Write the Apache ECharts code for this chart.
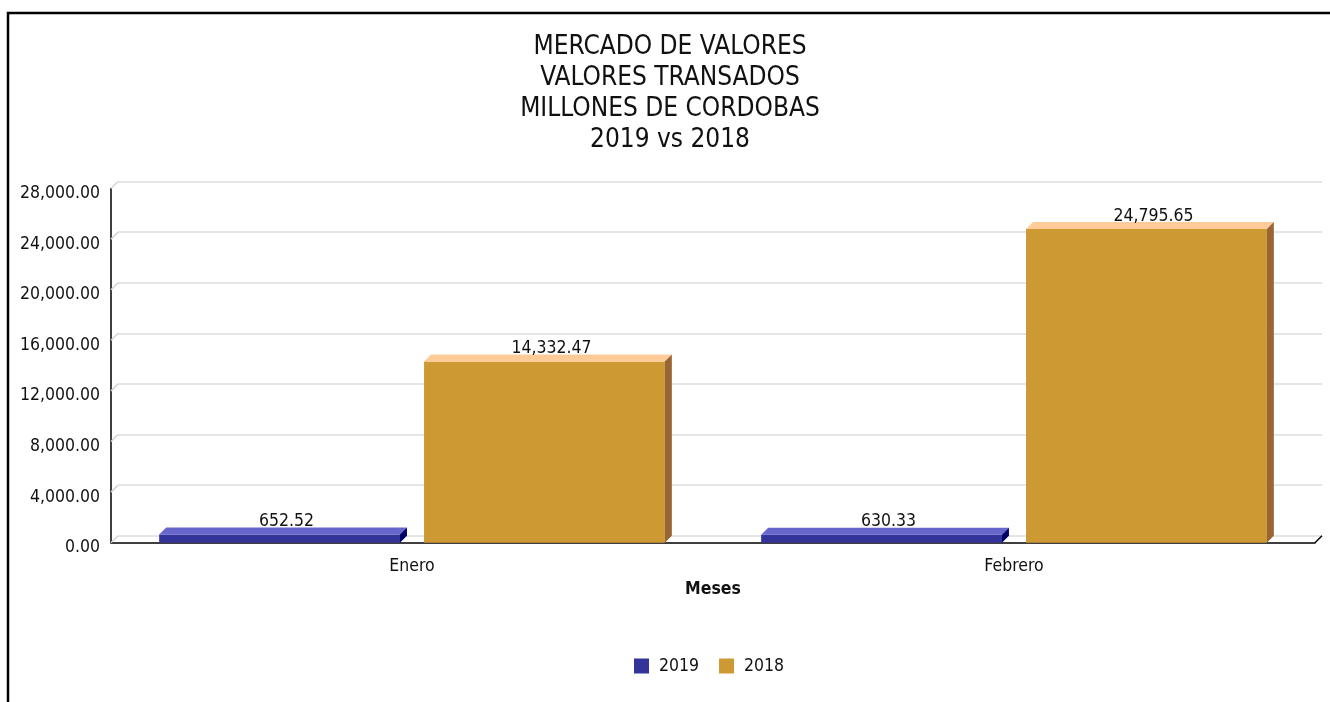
<!DOCTYPE html>
<html>
<head>
<meta charset="utf-8">
<title>Mercado de valores</title>
<script src="https://cdn.jsdelivr.net/npm/echarts@6/dist/echarts.min.js"></script>
<style>
  html, body { margin: 0; padding: 0; background: #fff; }
  #chart { width: 1330px; height: 702px; }
</style>
</head>
<body>
<div id="chart"></div>
<script>
// datos
const months = ['Enero', 'Febrero'];
const values2019 = [652.52, 630.33];
const values2018 = [14332.47, 24795.65];
const yTicks = [0, 4000, 8000, 12000, 16000, 20000, 24000, 28000];

const FONT = "'DejaVu Sans Condensed', 'DejaVu Sans', sans-serif";
const DEPTH = 7; // profundidad del efecto 3D

function fmt(v) {
  return Number(v).toLocaleString('en-US', { minimumFractionDigits: 2, maximumFractionDigits: 2 });
}

// barra con cara frontal, superior y lateral
function bar3D(offset, colors) {
  return function (params, api) {
    const base = api.coord([api.value(0), 0]);
    const top = api.coord([api.value(0), api.value(1)]);
    const band = api.size([1, 0])[0];
    const w = band * 0.4;
    const x = base[0] + band * offset - w / 2;
    const yTop = top[1];
    const yBase = base[1];
    const d = DEPTH;
    return {
      type: 'group',
      children: [
        { type: 'rect', shape: { x: x, y: yTop, width: w, height: yBase - yTop }, style: { fill: colors.front } },
        { type: 'polygon', shape: { points: [[x, yTop], [x + d, yTop - d], [x + w + d, yTop - d], [x + w, yTop]] }, style: { fill: colors.top } },
        { type: 'polygon', shape: { points: [[x + w, yTop], [x + w + d, yTop - d], [x + w + d, yBase - d], [x + w, yBase]] }, style: { fill: colors.side } },
        {
          type: 'text',
          style: {
            text: fmt(api.value(1)), x: x + w / 2 + d, y: yTop - d - 6,
            align: 'center', verticalAlign: 'middle',
            fontSize: 17.5, fontFamily: FONT, fill: '#111'
          }
        }
      ]
    };
  };
}

const chart = echarts.init(document.getElementById('chart'));

const option = {
  backgroundColor: '#fff',
  animation: false,
  graphic: [{
    type: 'rect',
    shape: { x: 8, y: 13, width: 1400, height: 800 },
    style: { fill: null, stroke: '#000', lineWidth: 2.5 },
    silent: true
  }],
  title: {
    text: 'MERCADO DE VALORES\nVALORES TRANSADOS\nMILLONES DE CORDOBAS\n2019 vs 2018',
    left: 670,
    top: 32,
    textAlign: 'center',
    padding: 0,
    textStyle: { fontFamily: FONT, fontSize: 26, fontWeight: 'normal', lineHeight: 31, color: '#111' }
  },
  legend: {
    data: ['2019', '2018'],
    left: 634,
    top: 657,
    padding: 0,
    icon: 'rect',
    itemWidth: 15,
    itemHeight: 15,
    itemGap: 20,
    textStyle: { fontFamily: FONT, fontSize: 17.5, color: '#111', padding: [0, 0, 0, 5] }
  },
  grid: [
    // plano de fondo (lineas de division)
    { left: 118, right: 8, top: 181.5, bottom: 166.3 },
    // plano frontal (barras y ejes)
    { left: 111, right: 15, top: 188.5, bottom: 159.3 }
  ],
  xAxis: [
    { gridIndex: 0, type: 'category', data: months, show: false },
    {
      gridIndex: 1, type: 'category', data: months,
      axisLine: { lineStyle: { color: '#000', width: 1.5 } },
      axisTick: { show: false },
      axisLabel: { fontFamily: FONT, fontSize: 17.5, color: '#111', margin: 15 },
      name: 'Meses', nameLocation: 'middle', nameGap: 38,
      nameTextStyle: { fontFamily: FONT, fontSize: 17.5, fontWeight: 'bold', color: '#111' }
    }
  ],
  yAxis: [
    {
      gridIndex: 0, type: 'value', min: 0, max: 28000, interval: 4000,
      axisLine: { show: false }, axisTick: { show: false }, axisLabel: { show: false },
      splitLine: { lineStyle: { color: '#dcdcdc', width: 1.5 } }
    },
    {
      gridIndex: 1, type: 'value', min: 0, max: 28000, interval: 4000,
      axisLine: { show: true, lineStyle: { color: '#000', width: 1.5 } },
      axisTick: { show: false },
      splitLine: { show: false },
      axisLabel: {
        fontFamily: FONT, fontSize: 17.5, color: '#111', margin: 11,
        verticalAlign: 'top', lineHeight: 10, formatter: fmt
      }
    }
  ],
  series: [
    {
      // pared izquierda: diagonales entre plano frontal y de fondo
      type: 'custom',
      xAxisIndex: 0, yAxisIndex: 0,
      silent: true,
      clip: false,
      data: yTicks.map(v => [0, v]),
      renderItem: function (params, api) {
        const p = api.coord([0, api.value(1)]);
        const cs = params.coordSys;
        const children = [{
          type: 'line',
          shape: { x1: cs.x - DEPTH, y1: p[1] + DEPTH, x2: cs.x, y2: p[1] },
          style: { stroke: '#d4d4d4', lineWidth: 1.5 }
        }];
        if (api.value(1) === 0) {
          children.push({
            type: 'line',
            shape: { x1: cs.x + cs.width - DEPTH, y1: p[1] + DEPTH, x2: cs.x + cs.width, y2: p[1] },
            style: { stroke: '#000', lineWidth: 1.5 }
          });
        }
        return { type: 'group', children: children };
      }
    },
    {
      name: '2019',
      type: 'custom',
      xAxisIndex: 1, yAxisIndex: 1,
      clip: false,
      itemStyle: { color: '#333399' },
      data: values2019.map((v, i) => [i, v]),
      renderItem: bar3D(-0.22, { front: '#333399', top: '#6666cc', side: '#000066' })
    },
    {
      name: '2018',
      type: 'custom',
      xAxisIndex: 1, yAxisIndex: 1,
      clip: false,
      itemStyle: { color: '#cc9933' },
      data: values2018.map((v, i) => [i, v]),
      renderItem: bar3D(0.22, { front: '#cc9933', top: '#ffcc99', side: '#996633' })
    }
  ]
};

chart.setOption(option);
window.addEventListener('resize', () => chart.resize());
</script>
</body>
</html>
